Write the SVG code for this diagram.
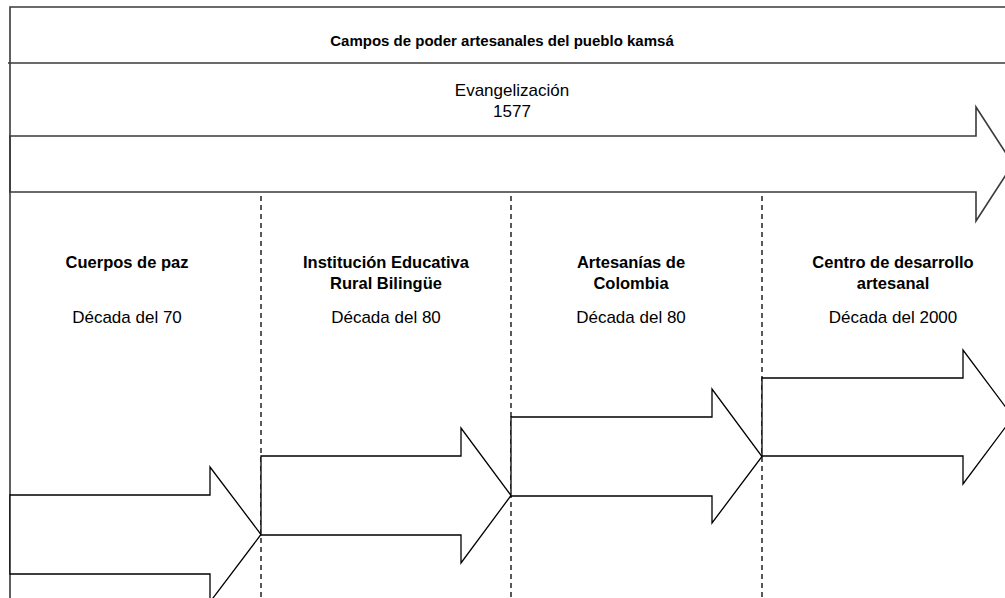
<svg xmlns="http://www.w3.org/2000/svg" width="1005" height="598" viewBox="0 0 1005 598">
<style>
.frame{fill:none;stroke:#3a3a3a;stroke-width:1.6}
.arrow{fill:#fff;stroke:#000;stroke-width:1.3;stroke-linejoin:miter}
.dash{stroke:#000;stroke-width:1.3;stroke-dasharray:5 4;stroke-dashoffset:-4;fill:none}
.t{font-family:"Liberation Sans",Arial,sans-serif;fill:#000;text-anchor:middle}
.b{font-weight:bold;font-size:16.5px}
.r{font-size:17px}
.title{font-weight:bold;font-size:15px}
</style>
<rect width="1005" height="598" fill="#fff"/>
<g id="header">
<path class="frame" d="M1005,7 H10 V598 M8,63 H1005"/>
<text class="t title" x="502" y="46">Campos de poder artesanales del pueblo kamsá</text>
</g>
<g id="evangelizacion">
<polygon class="frame" fill="#fff" points="10,136 976,136 976,107 1013,164 976,221 976,192 10,192"/>
<text class="t r" x="512" y="96">Evangelización</text>
<text class="t r" x="512" y="117">1577</text>
</g>
<g id="connectors">
<line class="dash" x1="261" y1="192" x2="261" y2="598"/>
<line class="dash" x1="511" y1="192" x2="511" y2="598"/>
<line class="dash" x1="762" y1="192" x2="762" y2="598"/>
</g>
<g id="cuerpos">
<polygon class="arrow" points="10,495 210,495 210,467 261,534.5 210,602 210,574 10,574"/>
<text class="t b" x="127" y="268">Cuerpos de paz</text>
<text class="t r" x="127" y="323">Década del 70</text>
</g>
<g id="institucion">
<polygon class="arrow" points="261,456 461,456 461,428 511,495.5 461,563 461,535 261,535"/>
<text class="t b" x="386" y="268">Institución Educativa</text>
<text class="t b" x="386" y="289">Rural Bilingüe</text>
<text class="t r" x="386" y="323">Década del 80</text>
</g>
<g id="artesanias">
<polygon class="arrow" points="511,417 712,417 712,389 762,456.5 712,523 712,496 511,496"/>
<text class="t b" x="631" y="268">Artesanías de</text>
<text class="t b" x="631" y="289">Colombia</text>
<text class="t r" x="631" y="323">Década del 80</text>
</g>
<g id="centro">
<polygon class="arrow" points="762,378 963,378 963,350 1013,417 963,484 963,456 762,456"/>
<text class="t b" x="893" y="268">Centro de desarrollo</text>
<text class="t b" x="893" y="289">artesanal</text>
<text class="t r" x="893" y="323">Década del 2000</text>
</g>
</svg>
